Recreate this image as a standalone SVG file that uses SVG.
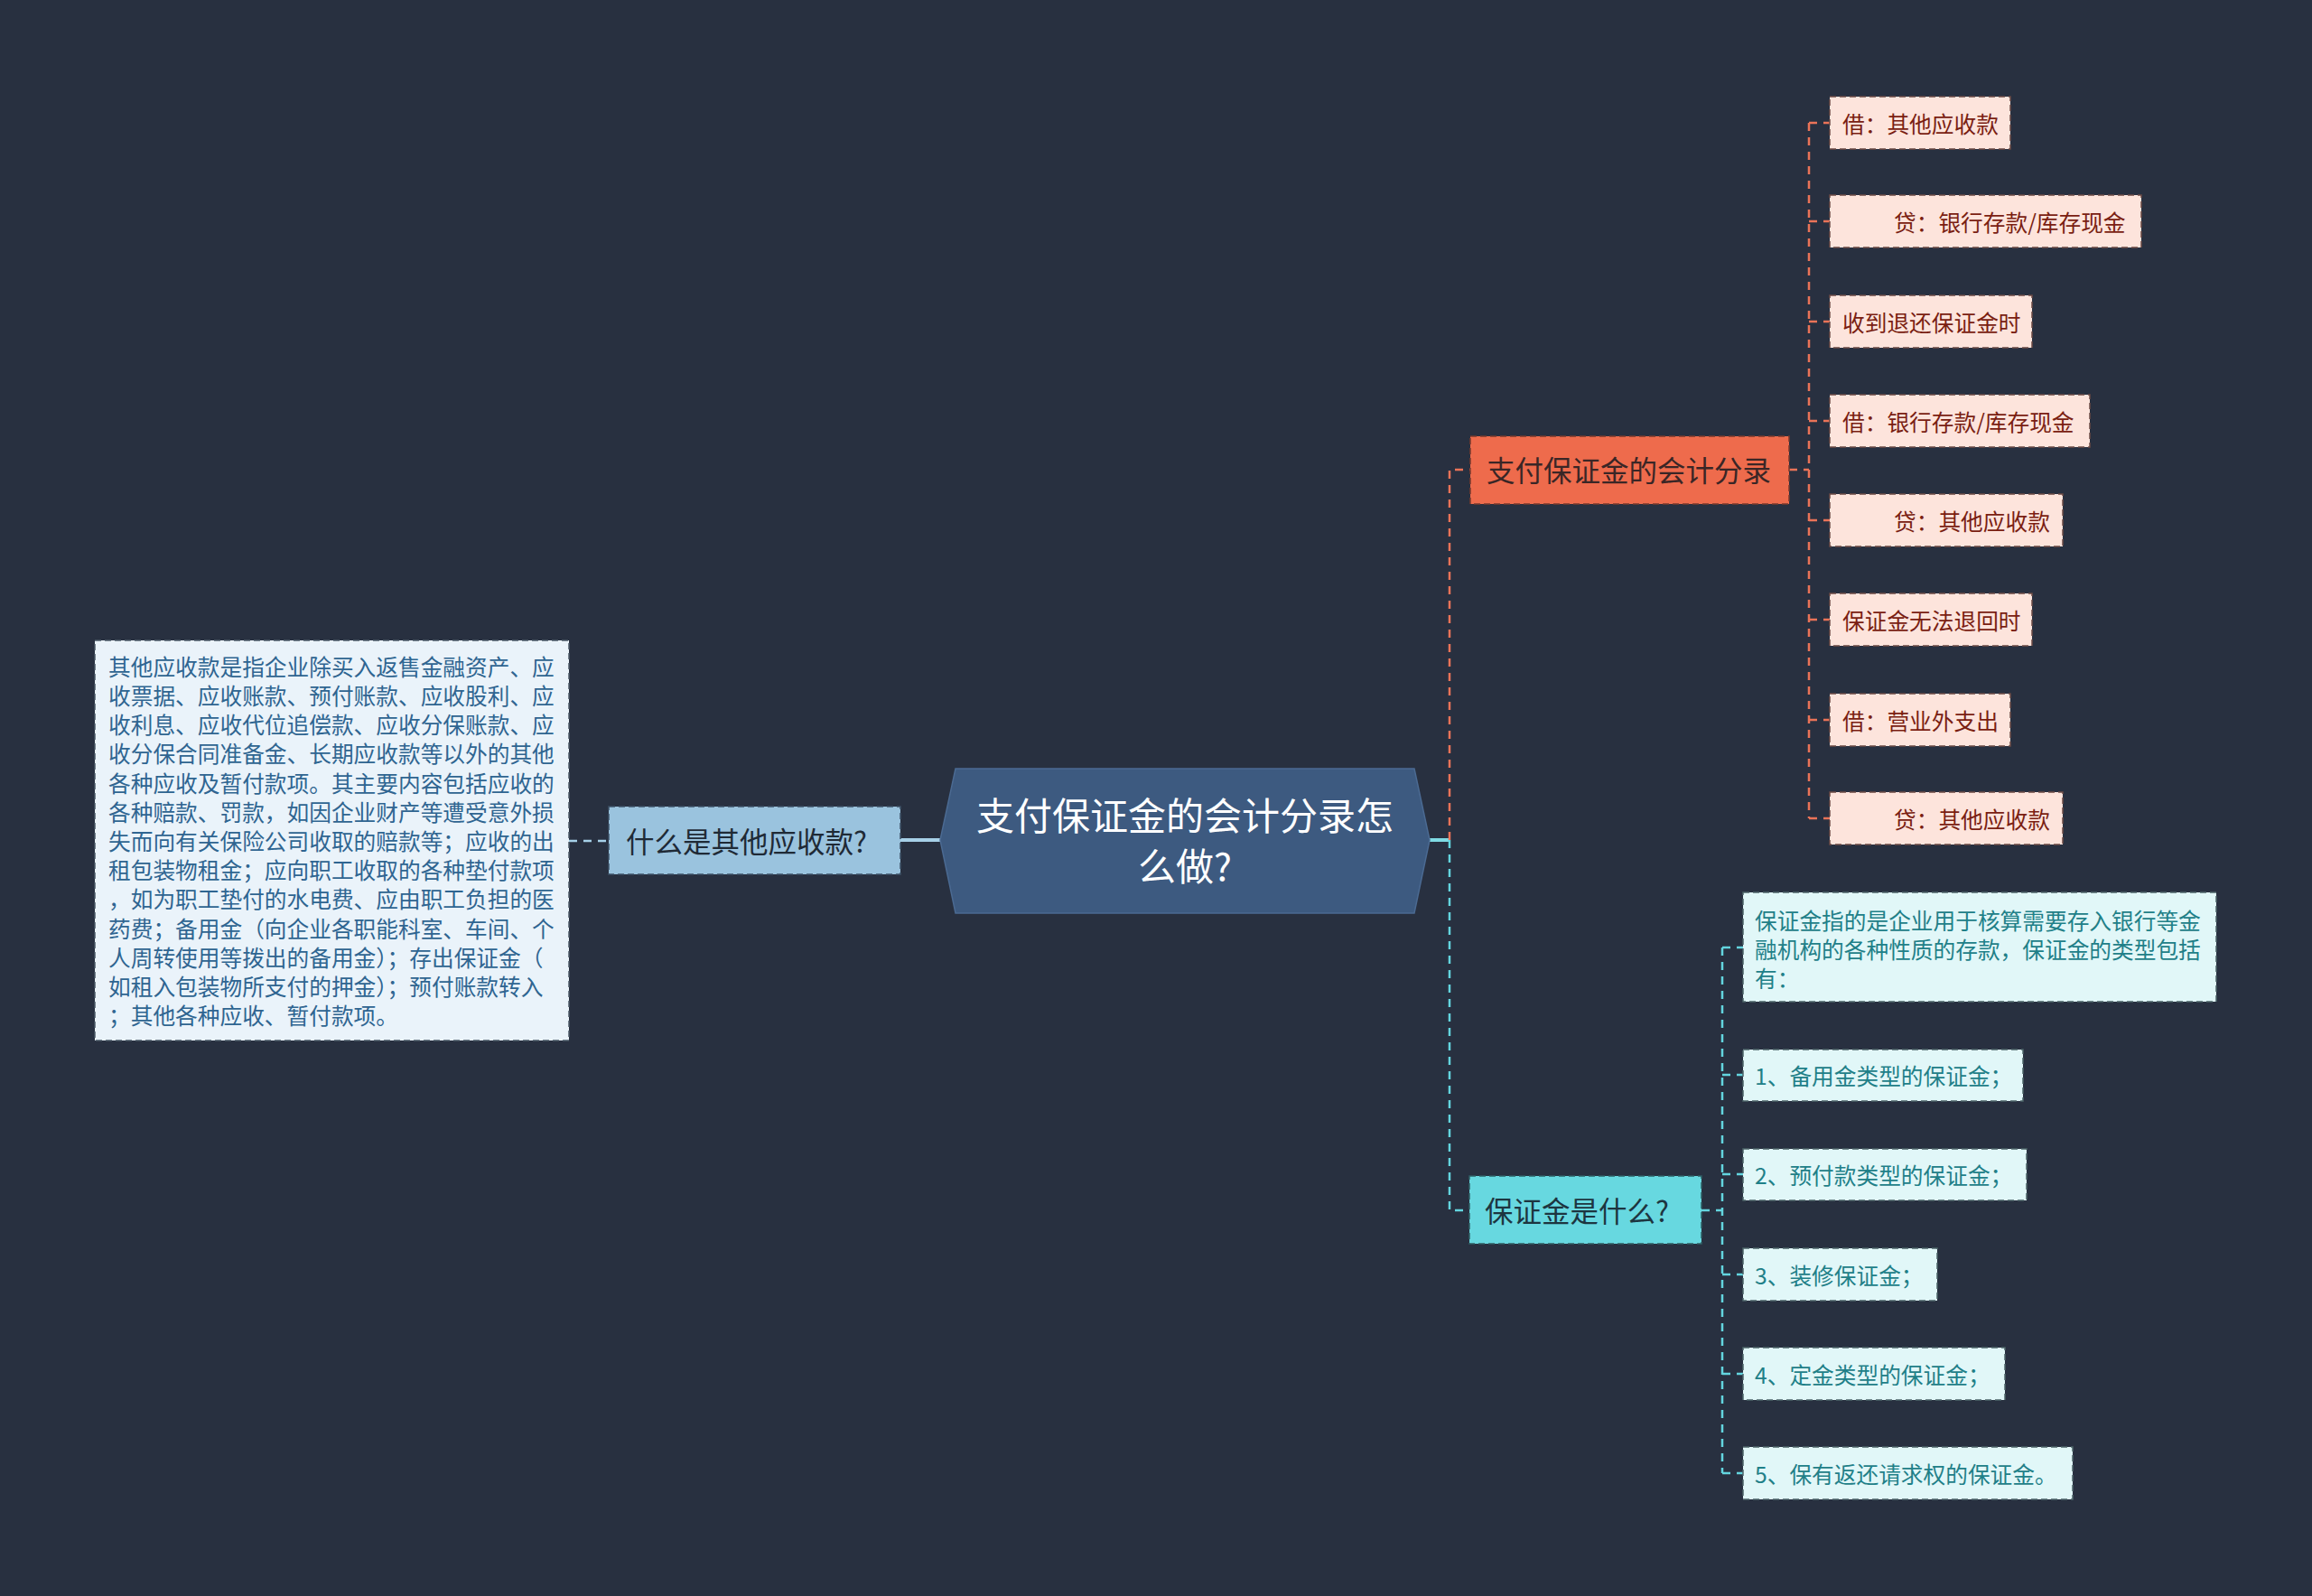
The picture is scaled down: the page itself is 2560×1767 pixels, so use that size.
<svg xmlns="http://www.w3.org/2000/svg" width="2560" height="1767" viewBox="0 0 2560 1767">
<style>
text{font-family:"Noto Sans CJK SC","Noto Sans",sans-serif;dominant-baseline:central}
.small{font-size:24.7px}
.mid{font-size:31.5px}
.big{font-size:42px;fill:#ffffff}
.box{stroke-dasharray:7 4;stroke-width:1.5}
.oc{fill:#fde4dc;stroke:#6b4a44}
.ot{fill:#7a1e12}
.cc{fill:#e1f7f8;stroke:#4c6468}
.ct{fill:#1f8088}
.con{fill:none;stroke-width:2.5;stroke-dasharray:9 7}
</style>
<rect width="2560" height="1767" fill="#283040"/>

<g id="connectors">
  <line x1="997" y1="930" x2="1041" y2="930" stroke="#a6d0e8" stroke-width="4"/>
  <line x1="630" y1="931" x2="674" y2="931" class="con" stroke="#a6d0e8"/>
  <line x1="1583" y1="930" x2="1605" y2="930" stroke="#7fdbe4" stroke-width="4"/>
  <path class="con" stroke="#ea7358" d="M1605,930 V520 H1628"/>
  <path class="con" stroke="#63d5df" d="M1605,930 V1340 H1627"/>
  <line x1="1981" y1="520" x2="2003" y2="520" class="con" stroke="#ea7358"/>
  <path class="con" stroke="#ea7358" d="M2003,136 V906"/>
  <path class="con" stroke="#ea7358" d="M2003,136 H2026 M2003,245 H2026 M2003,356 H2026 M2003,466 H2026 M2003,576 H2026 M2003,686 H2026 M2003,797 H2026 M2003,906 H2026"/>
  <line x1="1884" y1="1340" x2="1907" y2="1340" class="con" stroke="#63d5df"/>
  <path class="con" stroke="#63d5df" d="M1907,1049 V1631"/>
  <path class="con" stroke="#63d5df" d="M1907,1049 H1930 M1907,1190 H1930 M1907,1300 H1930 M1907,1411 H1930 M1907,1521 H1930 M1907,1631 H1930"/>
</g>

<g id="root">
  <polygon points="1058,851 1566,851 1583,930 1566,1011 1058,1011 1041,930" fill="#3d5a80" stroke="#4b6a92" stroke-width="1.5"/>
  <text class="big" x="1312" y="900" text-anchor="middle">支付保证金的会计分录怎</text>
  <text class="big" x="1312" y="956" text-anchor="middle">么做?</text>
</g>

<g id="node-what-other">
  <rect x="674" y="893" width="323" height="75" fill="#9ac3de" stroke="#3d5065" class="box"/>
  <text class="mid" x="693" y="930" fill="#1f2a36">什么是其他应收款?</text>
</g>

<g id="node-other-desc">
  <rect x="105" y="709" width="525" height="443" fill="#eaf3fa" stroke="#4a5866" class="box"/>
  <g class="small" fill="#2f6591">
    <text x="120" y="737">其他应收款是指企业除买入返售金融资产、应</text>
    <text x="120" y="769">收票据、应收账款、预付账款、应收股利、应</text>
    <text x="120" y="801">收利息、应收代位追偿款、应收分保账款、应</text>
    <text x="120" y="833">收分保合同准备金、长期应收款等以外的其他</text>
    <text x="120" y="866">各种应收及暂付款项。其主要内容包括应收的</text>
    <text x="120" y="898">各种赔款、罚款，如因企业财产等遭受意外损</text>
    <text x="120" y="930">失而向有关保险公司收取的赔款等；应收的出</text>
    <text x="120" y="962">租包装物租金；应向职工收取的各种垫付款项</text>
    <text x="120" y="994">，如为职工垫付的水电费、应由职工负担的医</text>
    <text x="120" y="1027">药费；备用金（向企业各职能科室、车间、个</text>
    <text x="120" y="1059">人周转使用等拨出的备用金）；存出保证金（</text>
    <text x="120" y="1091">如租入包装物所支付的押金）；预付账款转入</text>
    <text x="120" y="1123">；其他各种应收、暂付款项。</text>
  </g>
</g>

<g id="node-entries">
  <rect x="1628" y="483" width="353" height="75" fill="#ee6b4c" stroke="#7a3a2c" class="box"/>
  <text class="mid" x="1646" y="519" fill="#3a2626">支付保证金的会计分录</text>
</g>

<g id="o1"><rect class="oc box" x="2026" y="107" width="200" height="58"/><text class="small ot" x="2040" y="136">借：其他应收款</text></g>
<g id="o2"><rect class="oc box" x="2026" y="216" width="345" height="58"/><text class="small ot" x="2097" y="245">贷：银行存款/库存现金</text></g>
<g id="o3"><rect class="oc box" x="2026" y="327" width="224" height="58"/><text class="small ot" x="2040" y="356">收到退还保证金时</text></g>
<g id="o4"><rect class="oc box" x="2026" y="437" width="288" height="58"/><text class="small ot" x="2040" y="466">借：银行存款/库存现金</text></g>
<g id="o5"><rect class="oc box" x="2026" y="547" width="258" height="58"/><text class="small ot" x="2097" y="576">贷：其他应收款</text></g>
<g id="o6"><rect class="oc box" x="2026" y="657" width="224" height="58"/><text class="small ot" x="2040" y="686">保证金无法退回时</text></g>
<g id="o7"><rect class="oc box" x="2026" y="768" width="200" height="58"/><text class="small ot" x="2040" y="797">借：营业外支出</text></g>
<g id="o8"><rect class="oc box" x="2026" y="877" width="258" height="58"/><text class="small ot" x="2097" y="906">贷：其他应收款</text></g>

<g id="node-deposit">
  <rect x="1627" y="1302" width="257" height="75" fill="#67d8e0" stroke="#2f5d63" class="box"/>
  <text class="mid" x="1644" y="1339" fill="#1d3540">保证金是什么?</text>
</g>

<g id="c1">
  <rect class="cc box" x="1930" y="988" width="524" height="121"/>
  <text class="small ct" x="1943" y="1018">保证金指的是企业用于核算需要存入银行等金</text>
  <text class="small ct" x="1943" y="1050">融机构的各种性质的存款，保证金的类型包括</text>
  <text class="small ct" x="1943" y="1082">有：</text>
</g>
<g id="c2"><rect class="cc box" x="1930" y="1162" width="310" height="57"/><text class="small ct" x="1943" y="1190">1、备用金类型的保证金；</text></g>
<g id="c3"><rect class="cc box" x="1930" y="1272" width="314" height="57"/><text class="small ct" x="1943" y="1300">2、预付款类型的保证金；</text></g>
<g id="c4"><rect class="cc box" x="1930" y="1382" width="215" height="58"/><text class="small ct" x="1943" y="1411">3、装修保证金；</text></g>
<g id="c5"><rect class="cc box" x="1930" y="1492" width="290" height="58"/><text class="small ct" x="1943" y="1521">4、定金类型的保证金；</text></g>
<g id="c6"><rect class="cc box" x="1930" y="1602" width="365" height="58"/><text class="small ct" x="1943" y="1631">5、保有返还请求权的保证金。</text></g>
</svg>
